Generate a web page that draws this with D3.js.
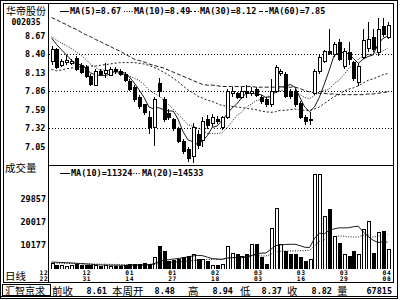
<!DOCTYPE html>
<html>
<head>
<meta charset="utf-8">
<script src="https://cdn.jsdelivr.net/npm/d3@7"></script>
<style>
html, body { margin: 0; padding: 0; background: #fff; }
svg { display: block; }
</style>
</head>
<body>
<svg width="400" height="300"></svg>
<script>
// daily candles, 12/22 .. 04/08
const opens = [8.30,8.47,8.24,8.28,8.27,8.34,8.24,8.21,8.08,7.95, 8.15,8.12,8.09,8.18,8.15,8.11,8.01,7.92,7.77,7.66,
  7.47,7.33,7.98,7.74,7.54,7.44,7.31,7.13,7.01,6.90, 7.23,7.14,7.45,7.39,7.45,7.33,7.48,7.82,7.82,7.77,
  7.86,7.82,7.89,7.77,7.74,7.66,7.86,8.12,8.11,7.85, 7.85,7.68,7.48,7.44,7.82,8.15,8.30,8.44,8.40,8.58,
  8.22,8.43,8.28,7.99,8.36,8.48,8.65,8.43,8.81,8.65];
const highs = [8.52,8.50,8.34,8.39,8.33,8.37,8.27,8.24,8.11,8.18, 8.18,8.28,8.21,8.22,8.18,8.14,8.04,7.95,7.80,7.68,
  7.57,7.77,8.06,7.77,7.60,7.47,7.33,7.16,7.04,7.39, 7.29,7.48,7.51,7.52,7.50,7.50,7.89,7.92,7.85,7.92,
  7.95,7.92,7.92,7.80,7.77,8.04,8.24,8.18,8.14,7.89, 7.89,7.71,7.51,7.55,8.18,8.39,8.47,8.77,8.58,8.62,
  8.50,8.58,8.31,8.27,8.77,8.87,8.77,8.94,8.94,8.88];
const lows = [8.24,8.18,8.21,8.24,8.24,8.15,8.11,8.06,7.93,7.93, 8.08,8.05,8.08,8.12,8.08,7.99,7.86,7.70,7.60,7.51,
  7.23,7.06,7.77,7.41,7.44,7.28,7.10,6.94,6.82,6.81, 7.01,7.04,7.31,7.33,7.38,7.29,7.45,7.77,7.74,7.74,
  7.76,7.79,7.77,7.68,7.63,7.63,7.83,8.09,7.76,7.74, 7.63,7.45,7.36,7.36,7.80,8.12,8.27,8.39,8.36,8.30,
  8.18,8.24,8.01,7.93,8.33,8.44,8.44,8.37,8.66,8.62];
const closes = [8.47,8.21,8.30,8.31,8.30,8.18,8.14,8.08,7.96,8.15, 8.11,8.17,8.18,8.15,8.11,8.02,7.89,7.74,7.63,7.55,
  7.33,7.74,7.86,7.45,7.48,7.31,7.13,6.98,6.87,7.33, 7.07,7.41,7.36,7.47,7.42,7.47,7.86,7.85,7.77,7.86,
  7.82,7.85,7.80,7.71,7.66,7.86,8.21,8.15,7.79,7.79, 7.66,7.48,7.41,7.45,8.15,8.36,8.44,8.41,8.55,8.33,
  8.44,8.33,8.04,8.22,8.61,8.62,8.47,8.77,8.69,8.82];
const volumes = [2570,1710,1500,1280,1290,1720,1490,1300,1700,1500, 1280,1300,1070,1060,1080,1290,1720,1930,2140,2150,
  2130,5140,9840,7700,3420,3850,4280,5130,5560,6420, 4280,4290,3420,1500,1710,2140,9850,6850,6420,5560,
  6420,10700,10710,5140,2140,17550,26100,10700,7700,6420, 6410,5130,3420,4280,40660,40650,22680,25680,14120,11130,
  6420,5560,7700,6420,17120,20540,6850,15840,16260,8325];

// moving averages as shown on the chart
const ma5 = [8.64,8.55,8.47,8.40,8.32,8.26,8.25,8.20,8.13,8.10, 8.09,8.09,8.11,8.15,8.14,8.13,8.07,7.98,7.88,7.77,
  7.63,7.60,7.62,7.59,7.57,7.57,7.45,7.27,7.15,7.12, 7.08,7.13,7.21,7.33,7.35,7.43,7.52,7.61,7.67,7.76,
  7.83,7.83,7.82,7.81,7.77,7.78,7.85,7.92,7.93,7.96, 7.92,7.77,7.63,7.56,7.63,7.77,7.96,8.16,8.38,8.42,
  8.43,8.41,8.34,8.27,8.33,8.37,8.39,8.54,8.63,8.67];
const ma10 = [8.66,8.61,8.57,8.53,8.49,8.44,8.39,8.33,8.26,8.21, 8.17,8.17,8.16,8.14,8.12,8.11,8.08,8.05,8.02,7.96,
  7.88,7.83,7.80,7.73,7.67,7.60,7.52,7.45,7.37,7.35, 7.32,7.29,7.24,7.24,7.24,7.25,7.32,7.41,7.50,7.55,
  7.63,7.67,7.72,7.74,7.77,7.80,7.84,7.87,7.87,7.86, 7.85,7.81,7.77,7.75,7.80,7.85,7.87,7.89,7.97,8.02,
  8.10,8.19,8.25,8.33,8.37,8.40,8.40,8.44,8.45,8.49];
const ma30 = [8.18,8.16,8.17,8.19,8.20,8.21,8.22,8.22,8.23,8.23, 8.24,8.25,8.26,8.27,8.28,8.28,8.28,8.28,8.27,8.26,
  8.24,8.21,8.18,8.14,8.10,8.05,8.00,7.94,7.88,7.84, 7.79,7.76,7.73,7.71,7.68,7.65,7.64,7.64,7.63,7.62,
  7.61,7.60,7.59,7.57,7.56,7.55,7.56,7.58,7.58,7.59, 7.60,7.59,7.58,7.58,7.60,7.63,7.68,7.73,7.78,7.81,
  7.86,7.89,7.91,7.94,7.98,8.02,8.04,8.07,8.10,8.12];
const ma60 = [8.94,8.91,8.87,8.84,8.80,8.77,8.73,8.69,8.66,8.62, 8.59,8.55,8.52,8.48,8.45,8.41,8.37,8.33,8.31,8.29,
  8.26,8.24,8.22,8.20,8.17,8.14,8.11,8.08,8.05,8.02, 7.99,7.96,7.95,7.95,7.94,7.93,7.93,7.93,7.93,7.93,
  7.93,7.93,7.92,7.92,7.92,7.92,7.92,7.93,7.92,7.92, 7.92,7.90,7.87,7.85,7.84,7.83,7.83,7.82,7.82,7.81,
  7.81,7.81,7.81,7.81,7.81,7.82,7.82,7.83,7.84,7.85];
const volMa10 = [2782,2696,2568,2482,2397,2268,2140,1969,1840,1648, 1519,1477,1434,1412,1391,1348,1370,1434,1477,1541,
  1626,2012,2889,3552,3788,4045,4301,4622,4965,5393, 5607,5521,4879,4259,4087,3916,4473,4644,4729,4644,
  4858,5500,6227,6591,6634,8175,9801,10186,10315,10400, 10400,9844,9116,9031,12883,15194,14852,16350,16992,17462,
  17462,17505,17933,18147,15793,13782,12198,11214,11428,11324];
const volMa20 = [2311,2268,2226,2183,2140,2097,2054,2012,1969,1926, 1883,1840,1798,1755,1712,1669,1626,1605,1584,1575,
  1554,1725,2140,2461,2568,2675,2816,3009,3201,3445, 3595,3745,3865,3886,3916,3959,4366,4614,4828,4999,
  5213,5491,5534,5406,5341,6026,7118,7396,7503,7503, 7610,7653,7653,7790,9737,11663,12305,13247,13632,13910,
  13910,13653,13503,13568,14317,14466,13503,13760,14188,14533];

const priceTicks = [8.67, 8.40, 8.13, 7.86, 7.59, 7.32, 7.05];
const priceGrid = [8.40, 7.86, 7.32];
const volTicks = [29857, 20017, 10177];
const dateLabels = ["12/22","12/31","01/14","01/27","02/18","03/03","03/16","03/29","04/08"];
const weekStart = 65;

const svg = d3.select("svg");
const mono = "'DejaVu Sans Mono', monospace";
const cjk = "'Noto Sans CJK SC', sans-serif";

const x = d3.scaleLinear().domain([0, closes.length - 1]).range([51.5, 387.5]);
const y = d3.scaleLinear().domain([7.05, 8.67]).range([146.5, 36]);
const yv = d3.scaleLinear().domain([0, 29857]).range([268.5, 199]);
const xDate = d3.scalePoint().domain(dateLabels).range([44, 387]);
const f2 = d3.format(".2f");

svg.append("rect").attr("width", 400).attr("height", 300).attr("fill", "#fff");

// frame
const frame = svg.append("g").attr("fill", "none").attr("stroke", "#000").attr("shape-rendering", "crispEdges");
frame.append("rect").attr("x", 0.5).attr("y", 0.5).attr("width", 397).attr("height", 298);
frame.append("rect").attr("x", 3.5).attr("y", 3.5).attr("width", 390).attr("height", 279);
frame.append("line").attr("x1", 48.5).attr("x2", 48.5).attr("y1", 3.5).attr("y2", 282.5);
frame.append("line").attr("x1", 48.5).attr("x2", 393.5).attr("y1", 165.5).attr("y2", 165.5);
frame.append("line").attr("x1", 0.5).attr("x2", 397.5).attr("y1", 296.5).attr("y2", 296.5);
frame.append("rect").attr("x", 2.5).attr("y", 284.5).attr("width", 48).attr("height", 11);

svg.append("clipPath").attr("id", "pclip")
  .append("rect").attr("x", 49).attr("y", 4).attr("width", 344).attr("height", 161);
svg.append("clipPath").attr("id", "vclip")
  .append("rect").attr("x", 49).attr("y", 166).attr("width", 344).attr("height", 103);

// price gridlines
svg.append("g").selectAll("line").data(priceGrid).join("line")
  .attr("x1", 49).attr("x2", 393)
  .attr("y1", d => Math.round(y(d)) + 0.5).attr("y2", d => Math.round(y(d)) + 0.5)
  .attr("stroke", "#000").attr("stroke-dasharray", "1,2").attr("shape-rendering", "crispEdges");

// MA lines
const maSeries = [
  { name: "MA(5)", values: ma5, dash: null },
  { name: "MA(10)", values: ma10, dash: "1,1.5" },
  { name: "MA(30)", values: ma30, dash: "2,2" },
  { name: "MA(60)", values: ma60, dash: "4,2" }
];
const line = d3.line().x((d, i) => x(i)).y(d => y(d));
svg.append("g").attr("clip-path", "url(#pclip)")
  .selectAll("path").data(maSeries).join("path")
  .attr("d", s => line(s.values))
  .attr("fill", "none").attr("stroke", "#000").attr("stroke-width", 0.9)
  .attr("stroke-dasharray", s => s.dash);

// candles
const candles = d3.range(closes.length);
const cg = svg.append("g").attr("clip-path", "url(#pclip)").attr("shape-rendering", "crispEdges");
cg.selectAll("line").data(candles).join("line")
  .attr("x1", i => Math.round(x(i)) + 0.5).attr("x2", i => Math.round(x(i)) + 0.5)
  .attr("y1", i => y(highs[i])).attr("y2", i => y(lows[i]))
  .attr("stroke", "#000");
cg.selectAll("rect").data(candles).join("rect")
  .attr("x", i => Math.round(x(i)) - 1)
  .attr("width", 3)
  .attr("y", i => y(Math.max(opens[i], closes[i])))
  .attr("height", i => Math.max(1, Math.abs(y(opens[i]) - y(closes[i]))))
  .attr("fill", i => closes[i] >= opens[i] ? "#fff" : "#000")
  .attr("stroke", "#000");

// legend of price panel
const legendX = [60, 124, 190, 259];
const lg = svg.append("g").selectAll("g").data(maSeries).join("g")
  .attr("transform", (s, i) => `translate(${legendX[i]},11)`);
lg.append("line").attr("x1", 0).attr("x2", 9).attr("y1", 0.5).attr("y2", 0.5)
  .attr("stroke", "#000").attr("stroke-dasharray", s => s.dash);
lg.append("text").attr("x", 10).attr("y", 3.2)
  .attr("font-family", mono).attr("font-size", 8.5).attr("font-weight", "bold")
  .text(s => `${s.name}=${f2(s.values[s.values.length - 1])}`);

// left labels of price panel
svg.append("text").attr("x", 26).attr("y", 14.5).attr("text-anchor", "middle")
  .attr("font-family", cjk).attr("font-size", 10).text("华帝股份");
svg.append("text").attr("x", 26).attr("y", 24.5).attr("text-anchor", "middle")
  .attr("font-family", mono).attr("font-size", 8).attr("font-weight", "bold").text("002035");
svg.append("g").selectAll("text").data(priceTicks).join("text")
  .attr("x", 45.5).attr("y", d => y(d) + 3)
  .attr("text-anchor", "end")
  .attr("font-family", mono).attr("font-size", 8.5).attr("font-weight", "bold")
  .text(d => f2(d));

// volume panel
const vg = svg.append("g").attr("clip-path", "url(#vclip)").attr("shape-rendering", "crispEdges");
vg.selectAll("rect").data(candles).join("rect")
  .attr("x", i => Math.round(x(i)) - 1)
  .attr("width", 3)
  .attr("y", i => Math.round(yv(volumes[i])) + 0.5)
  .attr("height", i => Math.max(0, Math.round(yv(0)) - Math.round(yv(volumes[i]))))
  .attr("fill", i => closes[i] >= opens[i] ? "#fff" : "#000")
  .attr("stroke", "#000");

const volSeries = [
  { name: "MA(10)", values: volMa10, dash: null },
  { name: "MA(20)", values: volMa20, dash: "1,1.5" }
];
const vline = d3.line().x((d, i) => x(i)).y(d => yv(d));
svg.append("g").attr("clip-path", "url(#vclip)")
  .selectAll("path").data(volSeries).join("path")
  .attr("d", s => vline(s.values))
  .attr("fill", "none").attr("stroke", "#000").attr("stroke-width", 0.9)
  .attr("stroke-dasharray", s => s.dash);

const vlegendX = [60, 131];
const vlg = svg.append("g").selectAll("g").data(volSeries).join("g")
  .attr("transform", (s, i) => `translate(${vlegendX[i]},173)`);
vlg.append("line").attr("x1", 0).attr("x2", 10).attr("y1", 0.5).attr("y2", 0.5)
  .attr("stroke", "#000").attr("stroke-dasharray", s => s.dash);
vlg.append("text").attr("x", 11).attr("y", 3.2)
  .attr("font-family", mono).attr("font-size", 8.5).attr("font-weight", "bold")
  .text(s => `${s.name}=${Math.round(s.values[s.values.length - 1])}`);

svg.append("text").attr("x", 5).attr("y", 172).attr("font-family", cjk).attr("font-size", 10.5).text("成交量");
svg.append("g").selectAll("text").data(volTicks).join("text")
  .attr("x", 46).attr("y", d => yv(d) + 3)
  .attr("text-anchor", "end")
  .attr("font-family", mono).attr("font-size", 8.5).attr("font-weight", "bold")
  .text(d => d);

// date axis
svg.append("text").attr("x", 5).attr("y", 279.5).attr("font-family", cjk).attr("font-size", 10.5).text("日线");
const dg = svg.append("g").selectAll("text").data(dateLabels).join("text")
  .attr("text-anchor", "middle")
  .attr("font-family", mono).attr("font-size", 6.3).attr("font-weight", "bold")
  .attr("letter-spacing", 0.7);
dg.append("tspan").attr("x", d => xDate(d)).attr("y", 274.8).text(d => d.slice(0, 2));
dg.append("tspan").attr("x", d => xDate(d)).attr("y", 281).text(d => d.slice(3));

// footer: weekly summary
const wk = d3.range(weekStart, closes.length);
const footer = [
  { label: "前收", value: f2(closes[weekStart - 1]) },
  { label: "本周开", value: f2(opens[weekStart]) },
  { label: "高", value: f2(d3.max(wk, i => highs[i])) },
  { label: "低", value: f2(d3.min(wk, i => lows[i])) },
  { label: "收", value: f2(closes[closes.length - 1]) },
  { label: "量", value: String(d3.sum(wk, i => volumes[i])) }
];
const labelX = [52, 112, 188, 240, 287, 337];
const valueX = [107, 175, 233, 282, 332, 392];
svg.append("text").attr("x", 5).attr("y", 294.5).attr("font-family", cjk).attr("font-size", 10).text("汇智京求");
svg.append("g").selectAll("text").data(footer).join("text")
  .attr("x", (d, i) => labelX[i]).attr("y", 294.5)
  .attr("font-family", cjk).attr("font-size", 10.5).text(d => d.label);
svg.append("g").selectAll("text").data(footer).join("text")
  .attr("x", (d, i) => valueX[i]).attr("y", 293.5).attr("text-anchor", "end")
  .attr("font-family", mono).attr("font-size", 8.5).attr("font-weight", "bold").text(d => d.value);
</script>
</body>
</html>
